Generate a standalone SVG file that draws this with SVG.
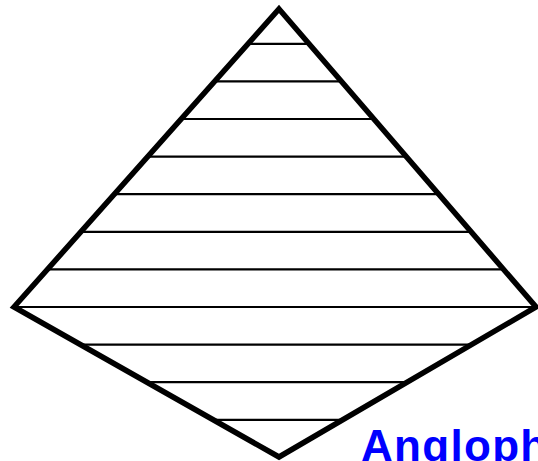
<svg xmlns="http://www.w3.org/2000/svg" width="538" height="461" viewBox="0 0 538 461">
  <style>
    .hatch { stroke: #000; stroke-width: 2.2; fill: none; }
    .outline { stroke: #000; stroke-width: 5.5; fill: none; stroke-linejoin: miter; }
    .label { font-family: "Liberation Sans", Arial, sans-serif; font-weight: bold; font-size: 44px; letter-spacing: 1.3px; fill: #0000ff; }
  </style>
  <rect width="538" height="461" fill="#fff"/>
  <g id="hatching">
    <line class="hatch" x1="248.1" y1="43.8" x2="309.0" y2="43.8"/>
    <line class="hatch" x1="214.6" y1="81.4" x2="341.4" y2="81.4"/>
    <line class="hatch" x1="181.2" y1="119" x2="373.9" y2="119"/>
    <line class="hatch" x1="147.7" y1="156.6" x2="406.3" y2="156.6"/>
    <line class="hatch" x1="114.3" y1="194.2" x2="438.7" y2="194.2"/>
    <line class="hatch" x1="80.9" y1="231.8" x2="471.1" y2="231.8"/>
    <line class="hatch" x1="47.4" y1="269.4" x2="503.6" y2="269.4"/>
    <line class="hatch" x1="14" y1="307" x2="536" y2="307"/>
    <line class="hatch" x1="80.4" y1="344.6" x2="471.6" y2="344.6"/>
    <line class="hatch" x1="146.9" y1="382.2" x2="407.2" y2="382.2"/>
    <line class="hatch" x1="213.3" y1="419.8" x2="342.7" y2="419.8"/>
  </g>
  <g id="diamond">
    <polygon class="outline" points="279,9 536,307 279,457 14,307"/>
  </g>
  <text class="label" x="361" y="461">Anglophone</text>
</svg>
